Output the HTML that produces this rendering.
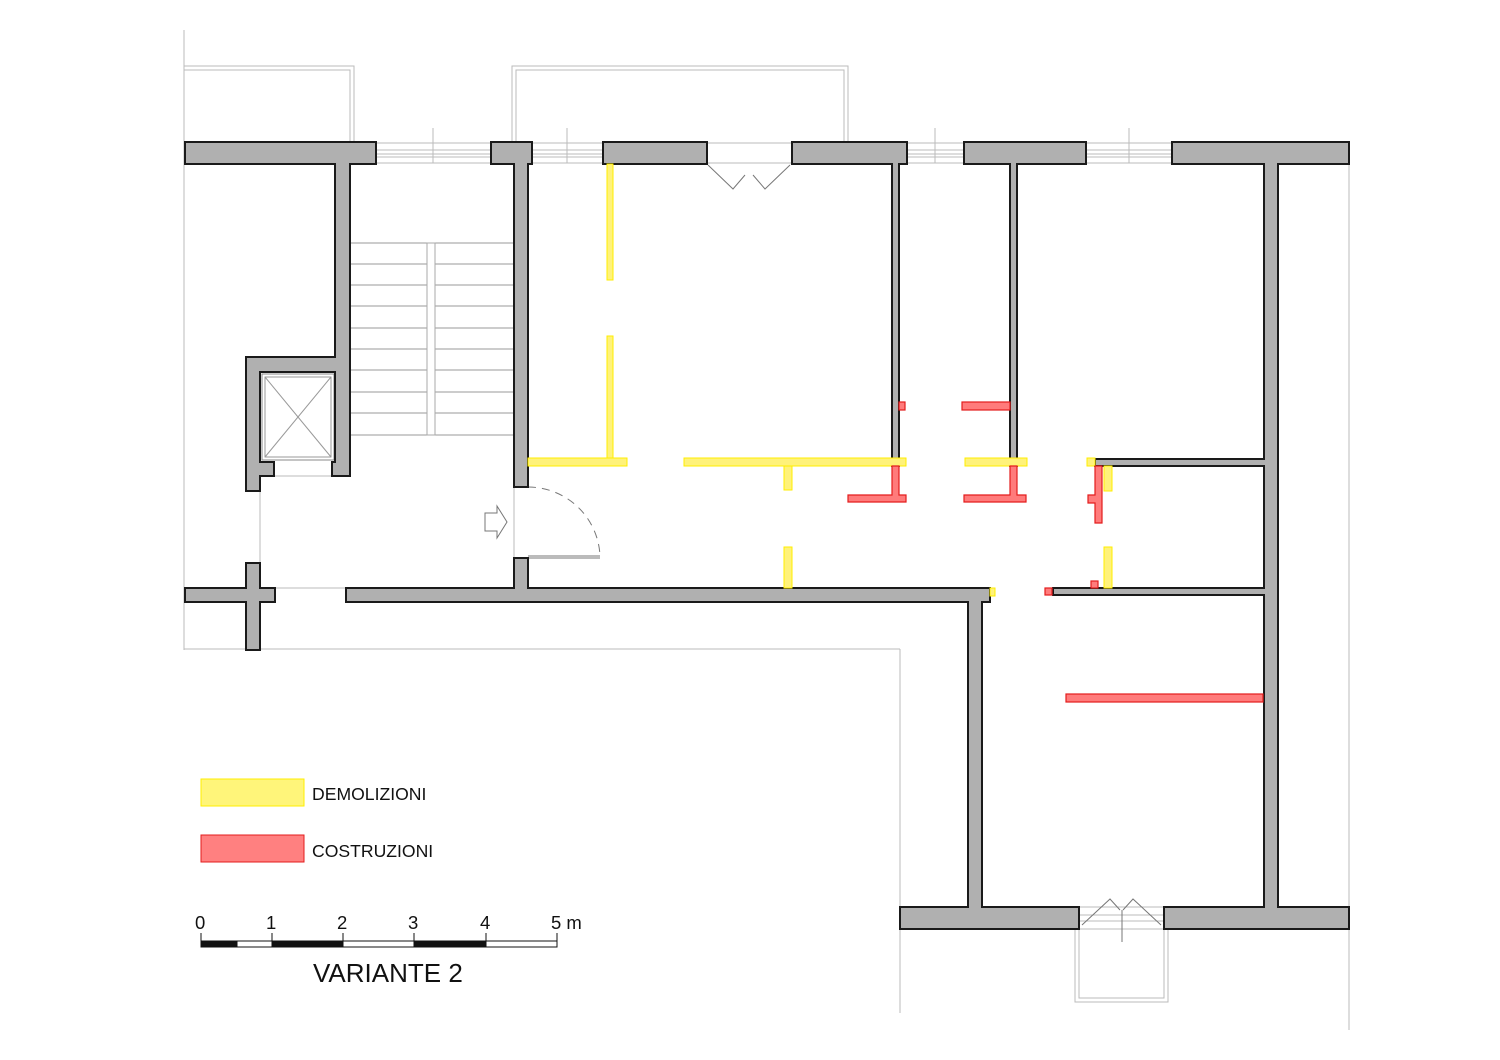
<!DOCTYPE html>
<html><head><meta charset="utf-8"><style>
html,body{margin:0;padding:0;background:#fff}
svg{display:block}
text{font-family:"Liberation Sans",Arial,sans-serif;fill:#111}
</style></head><body>
<svg width="1500" height="1060" viewBox="0 0 1500 1060" xmlns="http://www.w3.org/2000/svg">
<g stroke="#bbb" stroke-width="1" fill="none">
<line x1="184" y1="30" x2="184" y2="650"/>
<line x1="184" y1="649" x2="900" y2="649"/>
<line x1="900" y1="649" x2="900" y2="1013"/>
<line x1="1349" y1="163" x2="1349" y2="1030"/>
<polyline points="184,66 354,66 354,142"/>
<polyline points="184,70 350,70 350,142"/>
<polyline points="512,142 512,66 848,66 848,142"/>
<polyline points="516,142 516,70 844,70 844,142"/>
<polyline points="1075,929 1075,1002 1168,1002 1168,929"/>
<polyline points="1079,929 1079,998 1164,998 1164,929"/>
<g>
<line x1="376" y1="143" x2="491" y2="143"/><line x1="376" y1="150" x2="491" y2="150"/><line x1="376" y1="154" x2="491" y2="154"/><line x1="376" y1="157" x2="491" y2="157"/><line x1="376" y1="163" x2="491" y2="163"/>
<line x1="531" y1="143" x2="603" y2="143"/><line x1="531" y1="150" x2="603" y2="150"/><line x1="531" y1="154" x2="603" y2="154"/><line x1="531" y1="157" x2="603" y2="157"/><line x1="531" y1="163" x2="603" y2="163"/>
<line x1="906" y1="143" x2="964" y2="143"/><line x1="906" y1="150" x2="964" y2="150"/><line x1="906" y1="154" x2="964" y2="154"/><line x1="906" y1="157" x2="964" y2="157"/><line x1="906" y1="163" x2="964" y2="163"/>
<line x1="1086" y1="143" x2="1172" y2="143"/><line x1="1086" y1="150" x2="1172" y2="150"/><line x1="1086" y1="154" x2="1172" y2="154"/><line x1="1086" y1="157" x2="1172" y2="157"/><line x1="1086" y1="163" x2="1172" y2="163"/>
<line x1="706" y1="143" x2="792" y2="143"/><line x1="706" y1="163" x2="792" y2="163"/>
<line x1="433" y1="128" x2="433" y2="163"/><line x1="567" y1="128" x2="567" y2="163"/>
<line x1="935" y1="128" x2="935" y2="163"/><line x1="1129" y1="128" x2="1129" y2="163"/>
<line x1="1079" y1="907" x2="1164" y2="907"/><line x1="1079" y1="915" x2="1164" y2="915"/><line x1="1079" y1="921" x2="1164" y2="921"/><line x1="1079" y1="929" x2="1164" y2="929"/>
</g>
<g stroke="#999">
<line x1="350" y1="243" x2="513" y2="243"/><line x1="350" y1="264" x2="513" y2="264"/><line x1="350" y1="285" x2="513" y2="285"/><line x1="350" y1="306" x2="513" y2="306"/><line x1="350" y1="328" x2="513" y2="328"/><line x1="350" y1="349" x2="513" y2="349"/><line x1="350" y1="370" x2="513" y2="370"/><line x1="350" y1="392" x2="513" y2="392"/><line x1="350" y1="413" x2="513" y2="413"/><line x1="350" y1="435" x2="513" y2="435"/>
</g>
<rect x="427" y="243" width="8" height="192" fill="#fff" stroke="#aaa"/>
<line x1="274" y1="476" x2="332" y2="476"/>
<line x1="260" y1="491" x2="260" y2="588"/>
<line x1="260" y1="588" x2="514" y2="588"/>
<line x1="514" y1="487" x2="514" y2="558"/>
<rect x="262" y="374" width="72" height="86" stroke="#888"/>
<rect x="265" y="377" width="66" height="80" stroke="#999"/>
<line x1="265" y1="377" x2="331" y2="457" stroke="#999"/><line x1="331" y1="377" x2="265" y2="457" stroke="#999"/>
</g>
<g stroke="#777" fill="none" stroke-width="1">
<polyline points="708,165 733,189 745,175"/>
<polyline points="790,165 765,189 753,175"/>
<polyline points="1082,925 1110,899 1120,910"/>
<polyline points="1161,925 1133,899 1123,910"/>
<line x1="1122" y1="910" x2="1122" y2="942"/>
<line x1="528" y1="556" x2="600" y2="556"/><line x1="528" y1="558" x2="600" y2="558"/>
<path d="M528,487 A72,72 0 0 1 600,556" stroke-dasharray="8,6"/>
<polygon points="485,513 497,513 497,506 507,522 497,538 497,531 485,531"/>
</g>
<g fill="#b0b0b0" stroke="#1a1a1a" stroke-width="2">
<path d="M185,142 H376 V164 H350 V476 H332 V462 H335 V372 H260 V462 H274 V476 H260 V491 H246 V357 H335 V164 H185 Z"/>
<path d="M491,142 H532 V164 H528 V487 H514 V164 H491 Z"/>
<rect x="603" y="142" width="104" height="22"/>
<path d="M792,142 H907 V164 H899 V466 H892 V164 H792 Z"/>
<path d="M964,142 H1086 V164 H1017 V466 H1010 V164 H964 Z"/>
<path d="M1172,142 H1349 V164 H1278 V907 H1349 V929 H1164 V907 H1264 V595 H1053 V588 H1264 V466 H1095 V459 H1264 V164 H1172 Z"/>
<path d="M514,558 H528 V588 H990 V602 H982 V907 H1079 V929 H900 V907 H968 V602 H346 V588 H514 Z"/>
<path d="M185,588 H246 V563 H260 V588 H275 V602 H260 V650 H246 V602 H185 Z"/>
</g>
<g fill="#fff27a" stroke="#ffee00" stroke-width="1">
<rect x="607" y="164" width="6" height="116"/>
<rect x="607" y="336" width="6" height="122"/>
<rect x="528" y="458" width="99" height="8"/>
<rect x="684" y="458" width="222" height="8"/>
<rect x="784" y="466" width="8" height="24"/>
<rect x="784" y="547" width="8" height="41"/>
<rect x="965" y="458" width="62" height="8"/>
<rect x="1087" y="458" width="8" height="8"/>
<rect x="1104" y="466" width="8" height="25"/>
<rect x="1104" y="547" width="8" height="41"/>
<rect x="990" y="588" width="5" height="8"/>
</g>
<g fill="#ff7b7b" stroke="#e31d1d" stroke-width="1.2">
<rect x="899" y="402" width="6" height="8"/>
<rect x="962" y="402" width="48" height="8"/>
<path d="M892,466 H899 V495 H906 V502 H848 V495 H892 Z"/>
<path d="M1010,466 H1017 V495 H1026 V502 H964 V495 H1010 Z"/>
<path d="M1095,466 H1102 V523 H1095 V503 H1088 V495 H1095 Z"/>
<rect x="1091" y="581" width="7" height="7"/>
<rect x="1045" y="588" width="7" height="7"/>
<rect x="1066" y="694" width="197" height="8"/>
</g>
<rect x="201" y="779" width="103" height="27" fill="#fff57a" stroke="#ffee00"/>
<rect x="201" y="835" width="103" height="27" fill="#ff8080" stroke="#e31d1d"/>
<text x="312" y="800" font-size="17.6">DEMOLIZIONI</text>
<text x="312" y="857" font-size="17.6">COSTRUZIONI</text>
<g stroke="#111" stroke-width="1">
<rect x="201" y="941" width="356" height="6" fill="#fff"/>
<rect x="201" y="941" width="36" height="6" fill="#111"/>
<rect x="272" y="941" width="71" height="6" fill="#111"/>
<rect x="414" y="941" width="72" height="6" fill="#111"/>
<line x1="201" y1="933" x2="201" y2="947"/><line x1="272" y1="933" x2="272" y2="947"/><line x1="343" y1="933" x2="343" y2="947"/><line x1="414" y1="933" x2="414" y2="947"/><line x1="486" y1="933" x2="486" y2="947"/><line x1="557" y1="933" x2="557" y2="947"/>
</g>
<g font-size="18.5">
<text x="195" y="929">0</text><text x="266" y="929">1</text><text x="337" y="929">2</text><text x="408" y="929">3</text><text x="480" y="929">4</text><text x="551" y="929">5 m</text>
</g>
<text x="313" y="982" font-size="26">VARIANTE 2</text>
</svg>
</body></html>
